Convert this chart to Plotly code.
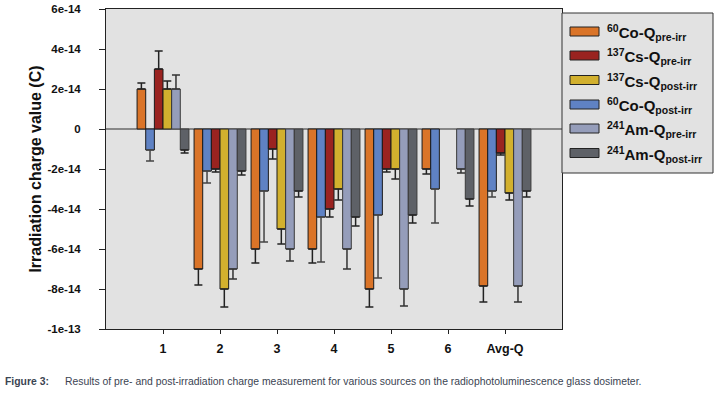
import plotly.graph_objects as go

categories = ["1", "2", "3", "4", "5", "6", "Avg-Q"]

# Values in coulombs; order = drawing order in each group
co60_pre = [2.0e-14, -7.0e-14, -6.0e-14, -6.0e-14, -8.0e-14, -2.0e-14, -7.85e-14]
co60_pre_err = [0.3e-14, 0.8e-14, 0.7e-14, 0.7e-14, 0.9e-14, 0.25e-14, 0.8e-14]
co60_post = [-1.05e-14, -2.1e-14, -3.1e-14, -4.4e-14, -4.3e-14, -3.0e-14, -3.1e-14]
co60_post_err = [0.55e-14, 0.6e-14, 2.55e-14, 2.25e-14, 3.15e-14, 1.7e-14, 0.3e-14]
cs137_pre = [3.0e-14, -2.0e-14, -1.0e-14, -4.0e-14, -2.0e-14, None, -1.2e-14]
cs137_pre_err = [0.9e-14, 0.15e-14, 0.5e-14, 0.4e-14, 0.15e-14, None, 0.1e-14]
cs137_post = [2.0e-14, -8.0e-14, -5.0e-14, -3.0e-14, -2.0e-14, None, -3.2e-14]
cs137_post_err = [0.4e-14, 0.9e-14, 0.75e-14, 0.55e-14, 0.5e-14, None, 0.35e-14]
am241_pre = [2.0e-14, -7.0e-14, -6.0e-14, -6.0e-14, -8.0e-14, -2.0e-14, -7.85e-14]
am241_pre_err = [0.7e-14, 0.5e-14, 0.6e-14, 1.0e-14, 0.85e-14, 0.2e-14, 0.8e-14]
am241_post = [-1.05e-14, -2.1e-14, -3.1e-14, -4.4e-14, -4.3e-14, -3.5e-14, -3.1e-14]
am241_post_err = [0.15e-14, 0.2e-14, 0.3e-14, 0.45e-14, 0.4e-14, 0.35e-14, 0.3e-14]

y_tickvals = [6e-14, 4e-14, 2e-14, 0, -2e-14, -4e-14, -6e-14, -8e-14, -1e-13]
y_ticktext = ["6e-14", "4e-14", "2e-14", "0", "-2e-14", "-4e-14", "-6e-14", "-8e-14", "-1e-13"]

series = [
    ("<sup>60</sup>Co-Q<sub>pre-irr</sub>", co60_pre, co60_pre_err, "#DA7428", "#1a1a1a", "#222222"),
    ("<sup>60</sup>Co-Q<sub>post-irr</sub>", co60_post, co60_post_err, "#5F82C4", "#1a1a1a", "#444444"),
    ("<sup>137</sup>Cs-Q<sub>pre-irr</sub>", cs137_pre, cs137_pre_err, "#9A2320", "#1a1a1a", "#222222"),
    ("<sup>137</sup>Cs-Q<sub>post-irr</sub>", cs137_post, cs137_post_err, "#D2B02E", "#1a1a1a", "#222222"),
    ("<sup>241</sup>Am-Q<sub>pre-irr</sub>", am241_pre, am241_pre_err, "#959DBA", "#3a3a3a", "#333333"),
    ("<sup>241</sup>Am-Q<sub>post-irr</sub>", am241_post, am241_post_err, "#5E6167", "#3a3a3a", "#222222"),
]
# legend order as in the reference
legend_order = [0, 2, 3, 1, 4, 5]

x_pos = list(range(len(categories)))

SANS = "Liberation Sans"

fig = go.Figure()
for name, vals, errs, color, lcolor, ecolor in series:
    plus = [(e if (v is not None and v > 0) else 0) for v, e in zip(vals, errs)]
    minus = [(e if (v is not None and v < 0) else 0) for v, e in zip(vals, errs)]
    fig.add_trace(go.Bar(
        x=x_pos, y=vals, name=name, showlegend=False,
        marker=dict(color=color, line=dict(color=lcolor, width=1)),
        error_y=dict(type="data", symmetric=False, array=plus, arrayminus=minus,
                     color=ecolor, thickness=1.5, width=4),
    ))

L, R, T, B = 106, 156, 9, 67
W, H = 718, 396
pw, ph = W - L - R, H - T - B

def px(X):
    return (X - L) / pw

def py(Y):
    return (H - B - Y) / ph

shapes = []
annotations = []
# legend box
shapes.append(dict(type="rect", xref="paper", yref="paper",
                   x0=px(562), x1=px(713), y0=py(173), y1=py(13),
                   fillcolor="#E2E2E2", line=dict(color="#333333", width=1), layer="above"))
centers = [31.5, 55.5, 80, 104.5, 128.5, 153]
for k, idx in enumerate(legend_order):
    name, _, _, color, lcolor, _ = series[idx]
    yc = centers[k]
    shapes.append(dict(type="rect", xref="paper", yref="paper",
                       x0=px(570), x1=px(599), y0=py(yc + 4.5), y1=py(yc - 4.5),
                       fillcolor=color, line=dict(color="#222222", width=1), layer="above"))
    annotations.append(dict(xref="paper", yref="paper", x=px(605), y=py(yc + 1),
                            xanchor="left", yanchor="middle", showarrow=False, text=name,
                            font=dict(family=SANS, size=15, color="#111111", weight="bold")))

# caption
annotations.append(dict(xref="paper", yref="paper", x=px(3), y=py(381.5), xanchor="left",
                        yanchor="middle", showarrow=False, text="Figure 3:",
                        font=dict(family=SANS, size=10.4, color="#3b4452", weight="bold")))
annotations.append(dict(xref="paper", yref="paper", x=px(63), y=py(381.5), xanchor="left",
                        yanchor="middle", showarrow=False,
                        text="Results of pre- and post-irradiation charge measurement for various sources on the radiophotoluminescence glass dosimeter.",
                        font=dict(family=SANS, size=10.4, color="#3b4452")))

fig.update_layout(
    width=W, height=H,
    margin=dict(l=L, r=R, t=T, b=B, autoexpand=False),
    paper_bgcolor="white", plot_bgcolor="#E2E2E2",
    barmode="group", bargap=0.09, bargroupgap=0,
    showlegend=False,
    shapes=shapes, annotations=annotations,
    font=dict(family=SANS, color="#111111"),
)
fig.update_xaxes(
    range=[-1, 7], tickvals=x_pos, ticktext=categories,
    showline=True, mirror=True, linecolor="#222222", linewidth=1,
    ticks="outside", ticklen=4, tickcolor="#222222", ticklabelstandoff=4,
    tickfont=dict(family=SANS, size=12.5, weight="bold", color="#111111"),
    showgrid=False, zeroline=False,
)
fig.update_yaxes(
    range=[-1e-13, 6e-14], tickvals=y_tickvals, ticktext=y_ticktext,
    showline=True, mirror=True, linecolor="#222222", linewidth=1,
    ticks="outside", ticklen=6, tickcolor="#222222", ticklabelstandoff=16,
    tickfont=dict(family=SANS, size=11.5, weight="bold", color="#111111"),
    showgrid=False, zeroline=True, zerolinecolor="#888888", zerolinewidth=2,
    title=dict(text="Irradiation charge value (C)", standoff=1,
               font=dict(family=SANS, size=16, weight="bold", color="#111111")),
)

fig.write_html("out.html", post_script="document.body.style.margin='0';",
               config={"displayModeBar": False})
